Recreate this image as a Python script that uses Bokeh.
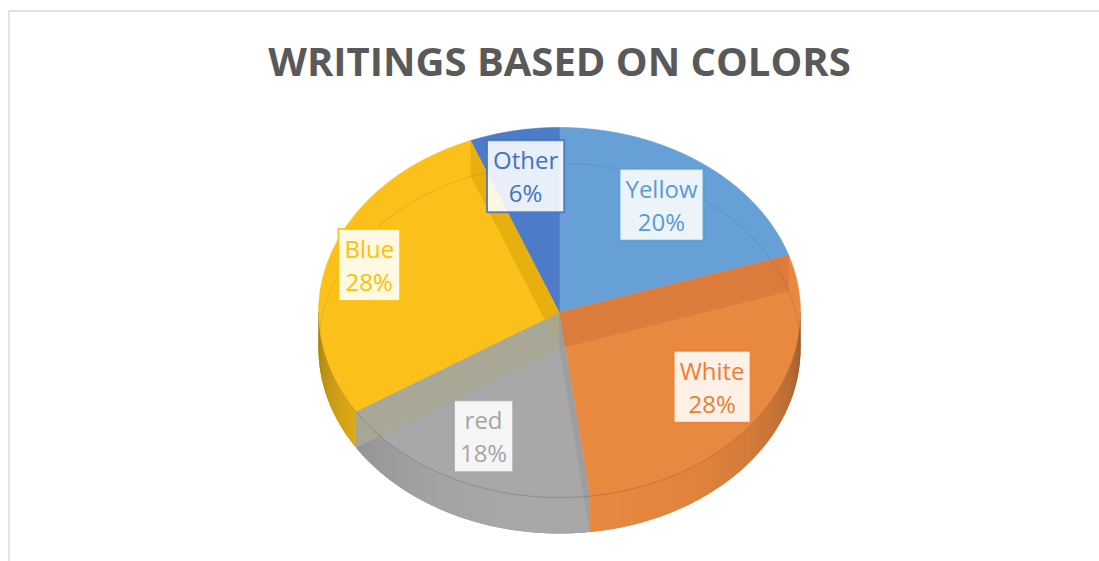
import math
from bokeh.plotting import figure
from bokeh.models import Range1d, Label
from bokeh.core.properties import value
from bokeh.embed import file_html
from bokeh.resources import INLINE

# ---- data ----
categories = ["Yellow", "White", "red", "Blue", "Other"]
percent = [20, 28, 18, 28, 6]
face_colors = ["#67A0D7", "#E9883F", "#A8A8A8", "#FBC11A", "#4E7BC8"]
text_colors = ["#5B9BD5", "#ED7D31", "#A5A5A5", "#FFC000", "#4472C4"]
title_text = "WRITINGS BASED ON COLORS"

# ---- layout ----
W, H = 1099, 561
cx, cy, rx, ry, depth = 559.0, 312.0, 241.0, 185.0, 36.0
label_r = [0.72, 0.75, 0.74, 0.83, 0.75]

p = figure(width=W, height=H, x_range=Range1d(0, W), y_range=Range1d(H, 0),
           output_backend="svg", toolbar_location=None, min_border=0,
           x_axis_location=None, y_axis_location=None)
p.grid.visible = False
p.outline_line_color = None
p.background_fill_color = "white"
p.border_fill_color = "white"


def P(t, f=1.0, dy=0.0):
    r = math.radians(t)
    return cx + rx * f * math.cos(r), cy - ry * f * math.sin(r) + dy


def shade(hexc, k):
    h = hexc.lstrip("#")
    rgb = [int(h[i:i + 2], 16) for i in (0, 2, 4)]
    rgb = [max(0, min(255, int(round(c * k)))) for c in rgb]
    return "#%02x%02x%02x" % tuple(rgb)


# slice boundaries (Excel: clockwise from 12 o'clock)
bounds = [90.0]
for v in percent:
    bounds.append(bounds[-1] - 360.0 * v / sum(percent))

# ---- side wall (front half) ----
for i in range(len(percent)):
    a0, a1 = bounds[i], bounds[i + 1]
    lo, hi = max(a1, -180.0), min(a0, 0.0)
    if lo >= hi:
        continue
    n = max(2, int((hi - lo) * 2))
    top = [P(hi - (hi - lo) * j / n) for j in range(n + 1)]
    bot = [P(hi - (hi - lo) * j / n, dy=depth) for j in range(n + 1)][::-1]
    pts = top + bot
    p.patch([q[0] for q in pts], [q[1] for q in pts],
            fill_color=shade(face_colors[i], 0.93), line_color=None)
    sx, sy, sc = [], [], []
    m = max(1, int(math.ceil((hi - lo) / 1.0)))
    for j in range(m):
        t0 = hi - (hi - lo) * j / m
        t1 = hi - (hi - lo) * (j + 1) / m
        tm = 0.5 * (t0 + t1)
        t1e = max(lo, t1 - 0.5)
        s = max(0.0, -math.sin(math.radians(tm)))
        k = 0.5 + 0.5 * s ** 0.45
        p0, p1 = P(t0), P(t1e)
        p2, p3 = P(t1e, dy=depth), P(t0, dy=depth)
        sx.append([p0[0], p1[0], p2[0], p3[0]])
        sy.append([p0[1], p1[1], p2[1], p3[1]])
        sc.append(shade(face_colors[i], k))
    p.patches(sx, sy, fill_color=sc, line_color=None)

# ---- top face ----
fx, fy = [], []
for i in range(len(percent)):
    a0, a1 = bounds[i], bounds[i + 1]
    n = max(2, int(abs(a0 - a1) * 2))
    xs, ys = [cx], [cy]
    for j in range(n + 1):
        x, y = P(a0 + (a1 - a0) * j / n)
        xs.append(x)
        ys.append(y)
    fx.append(xs)
    fy.append(ys)
p.patches(fx, fy, fill_color=face_colors, line_color=face_colors, line_width=0.6)

# ---- see-through radial walls ----
wall_colors = {1: "#DA7B3C", 2: "#9D9D9D", 3: "#A9A693", 4: "#E7AF0F"}
for idx in [4, 3, 1, 2]:
    a = bounds[idx]
    r0, r1 = P(a), P(a, dy=depth)
    xs = [cx, r0[0], r1[0], cx]
    ys = [cy, r0[1], r1[1], cy + depth]
    p.patch(xs, ys, fill_color=wall_colors[idx], line_color=None, fill_alpha=0.95)

# faint back rim seen through, and front top edge
bx, by = [], []
for j in range(181):
    x, y = P(float(j), dy=depth)
    bx.append(x)
    by.append(y)
p.line(bx, by, line_color="#000000", line_alpha=0.07, line_width=1.2)
ex, ey = [], []
for j in range(181):
    x, y = P(-float(j))
    ex.append(x)
    ey.append(y)
p.line(ex, ey, line_color="#000000", line_alpha=0.16, line_width=1)

# ---- data labels ----
for i, cat in enumerate(categories):
    mid = 0.5 * (bounds[i] + bounds[i + 1])
    x, y = P(mid, f=label_r[i])
    lab = Label(x=x, y=y, text=f"{cat}\n{percent[i]}%", text_font="Open Sans",
                text_font_size="24px", text_color=text_colors[i], text_align="center",
                text_baseline="middle", text_line_height=1.0,
                background_fill_color="white", background_fill_alpha=0.88,
                border_line_color=text_colors[i], border_line_width=2,
                border_line_alpha=0.85, padding=dict(x=6, y=3))
    p.add_layout(lab)

# ---- title ----
p.text(x=[559], y=[60], text=[title_text], text_font=value("Open Sans"),
       text_font_style="bold", text_font_size="40px", text_color="#595959",
       text_align="center", text_baseline="alphabetic")

# ---- chart-area border ----
p.line([8.5, 8.5, W], [H, 10.5, 10.5], line_color="#D9D9D9", line_width=1.4)

open("out.html", "w").write(file_html(p, INLINE))
